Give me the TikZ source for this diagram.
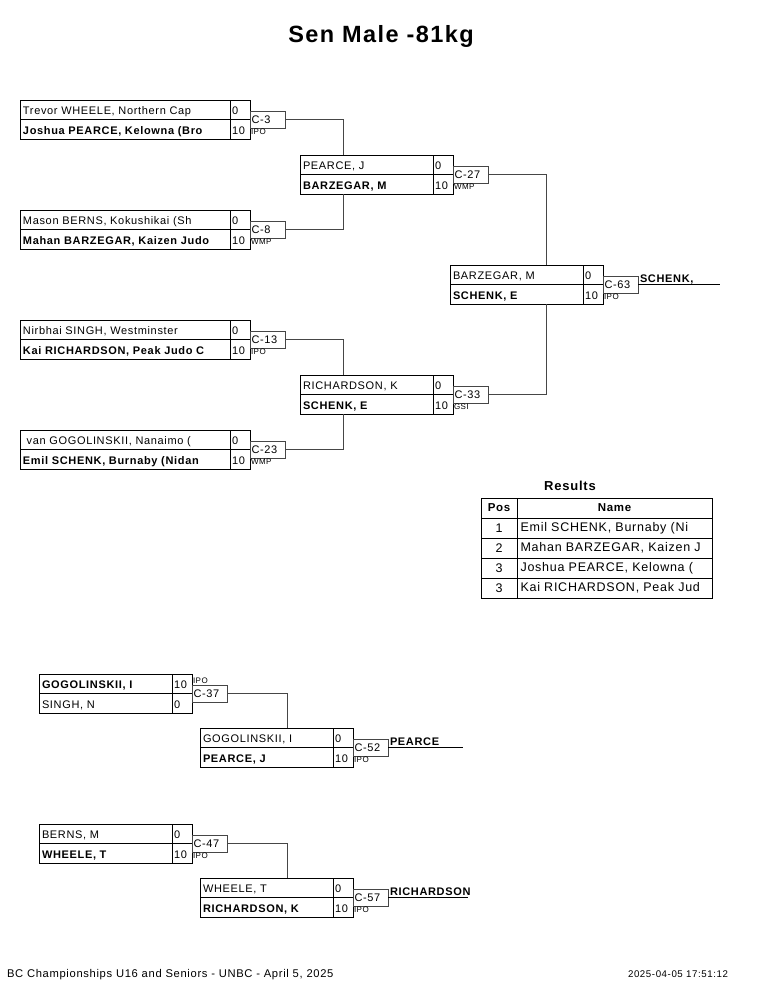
\documentclass[tikz,border=0pt]{standalone}
\usepackage{fontspec}
\newfontfamily\brfont[LetterSpace=6]{Liberation Sans}
\usetikzlibrary{positioning}

\begin{document}
\begin{tikzpicture}[
  x=1pt, y=-1pt, line width=1pt,
  every node/.style={font=\brfont\fontsize{11}{12}\selectfont, outer sep=0pt},
  player/.style={draw, minimum height=19.5pt, inner xsep=3pt, inner ysep=0pt, text height=10pt, text depth=0pt, text width=#1, align=left, anchor=north west},
  winner/.style={player=#1, font=\brfont\bfseries\fontsize{11}{12}\selectfont},
  score/.style={draw, minimum height=19.5pt, inner xsep=2pt, inner ysep=0pt, text height=10pt, text depth=0pt, text width=16pt, align=left},
  match/.style={draw=gray!55!black, fill=white, minimum height=17pt, inner xsep=1.5pt, inner ysep=0pt, text height=8pt, text depth=0pt, text width=32pt, align=left, anchor=west},
  how/.style={font=\brfont\fontsize{8}{9}\selectfont, inner sep=1pt},
  conn/.style={draw=gray!55!black},
  champ/.style={font=\brfont\bfseries\fontsize{11}{12}\selectfont, inner xsep=2pt, inner ysep=0pt, anchor=base west},
  poscell/.style={draw, minimum width=36pt, minimum height=20pt, inner sep=0pt, font=\brfont\fontsize{12.5}{15}\selectfont},
  namecell/.style={draw, minimum height=20pt, text width=188pt, inner xsep=3.5pt, inner ysep=0pt, align=left, font=\brfont\fontsize{12.5}{15}\selectfont},
  foot/.style={font=\brfont\fontsize{11.2}{13}\selectfont, inner sep=0pt}
  ]
\useasboundingbox (0,0) rectangle (765,990);

\node[font=\brfont\bfseries\fontsize{23.5}{28}\selectfont, anchor=base] (title) at (381,43) {Sen Male -81kg};

% first round
\node[player=204pt] (m3top) at (20,100) {Trevor WHEELE, Northern Cap};
\node[winner=204pt, below=0pt of m3top] (m3bot) {Joshua PEARCE, Kelowna (Bro};
\node[score, right=0pt of m3top] (m3topsc) {0};
\node[score, right=0pt of m3bot] (m3botsc) {10};
\node[match] (m3) at (m3topsc.south east) {C-3};
\node[how, anchor=north west] (m3how) at (m3.south west) {IPO};

\node[player=204pt] (m8top) at (20,210) {Mason BERNS, Kokushikai (Sh};
\node[winner=204pt, below=0pt of m8top] (m8bot) {Mahan BARZEGAR, Kaizen Judo};
\node[score, right=0pt of m8top] (m8topsc) {0};
\node[score, right=0pt of m8bot] (m8botsc) {10};
\node[match] (m8) at (m8topsc.south east) {C-8};
\node[how, anchor=north west] (m8how) at (m8.south west) {WMP};

\node[player=204pt] (m13top) at (20,320) {Nirbhai SINGH, Westminster};
\node[winner=204pt, below=0pt of m13top] (m13bot) {Kai RICHARDSON, Peak Judo C};
\node[score, right=0pt of m13top] (m13topsc) {0};
\node[score, right=0pt of m13bot] (m13botsc) {10};
\node[match] (m13) at (m13topsc.south east) {C-13};
\node[how, anchor=north west] (m13how) at (m13.south west) {IPO};

\node[player=204pt] (m23top) at (20,430) {\ van GOGOLINSKII, Nanaimo (};
\node[winner=204pt, below=0pt of m23top] (m23bot) {Emil SCHENK, Burnaby (Nidan};
\node[score, right=0pt of m23top] (m23topsc) {0};
\node[score, right=0pt of m23bot] (m23botsc) {10};
\node[match] (m23) at (m23topsc.south east) {C-23};
\node[how, anchor=north west] (m23how) at (m23.south west) {WMP};

% semi finals
\node[player=127pt] (m27top) at (300,155) {PEARCE, J};
\node[winner=127pt, below=0pt of m27top] (m27bot) {BARZEGAR, M};
\node[score, right=0pt of m27top] (m27topsc) {0};
\node[score, right=0pt of m27bot] (m27botsc) {10};
\node[match] (m27) at (m27topsc.south east) {C-27};
\node[how, anchor=north west] (m27how) at (m27.south west) {WMP};

\node[player=127pt] (m33top) at (300,375) {RICHARDSON, K};
\node[winner=127pt, below=0pt of m33top] (m33bot) {SCHENK, E};
\node[score, right=0pt of m33top] (m33topsc) {0};
\node[score, right=0pt of m33bot] (m33botsc) {10};
\node[match] (m33) at (m33topsc.south east) {C-33};
\node[how, anchor=north west] (m33how) at (m33.south west) {GSI};

% final
\node[player=127pt] (m63top) at (450,265) {BARZEGAR, M};
\node[winner=127pt, below=0pt of m63top] (m63bot) {SCHENK, E};
\node[score, right=0pt of m63top] (m63topsc) {0};
\node[score, right=0pt of m63bot] (m63botsc) {10};
\node[match] (m63) at (m63topsc.south east) {C-63};
\node[how, anchor=north west] (m63how) at (m63.south west) {IPO};
\node[champ] (win63) at ([yshift=2pt]m63.east) {SCHENK,};

\draw[conn] (m3.east) -| ([xshift=43pt]m27top.north west);
\draw[conn] (m8.east) -| ([xshift=43pt]m27bot.south west);
\draw[conn] (m13.east) -| ([xshift=43pt]m33top.north west);
\draw[conn] (m23.east) -| ([xshift=43pt]m33bot.south west);
\draw[conn] (m27.east) -| ([xshift=96pt]m63top.north west);
\draw[conn] (m33.east) -| ([xshift=96pt]m63bot.south west);
\draw (m63.east) -- ++(82,0) coordinate (end63);

% results
\node[font=\brfont\bfseries\fontsize{13}{15}\selectfont, anchor=base] (results) at (570,490) {Results};
\node[poscell, anchor=north west, font=\brfont\bfseries\fontsize{11.5}{13}\selectfont] (poshead) at (481,498) {Pos};
\node[namecell, align=center, right=0pt of poshead, font=\brfont\bfseries\fontsize{11.5}{13}\selectfont] (namehead) {Name};
\node[poscell, below=0pt of poshead] (pos1) {1};
\node[namecell, right=0pt of pos1] (name1) {Emil SCHENK, Burnaby (Ni};
\node[poscell, below=0pt of pos1] (pos2) {2};
\node[namecell, right=0pt of pos2] (name2) {Mahan BARZEGAR, Kaizen J};
\node[poscell, below=0pt of pos2] (pos3) {3};
\node[namecell, right=0pt of pos3] (name3) {Joshua PEARCE, Kelowna (};
\node[poscell, below=0pt of pos3] (pos4) {3};
\node[namecell, right=0pt of pos4] (name4) {Kai RICHARDSON, Peak Jud};

% repechage
\node[winner=127pt] (m37top) at (39,674) {GOGOLINSKII, I};
\node[player=127pt, below=0pt of m37top] (m37bot) {SINGH, N};
\node[score, right=0pt of m37top] (m37topsc) {10};
\node[score, right=0pt of m37bot] (m37botsc) {0};
\node[match] (m37) at (m37topsc.south east) {C-37};
\node[how, anchor=south west] (m37how) at (m37.north west) {IPO};

\node[player=127pt] (m52top) at (200,728) {GOGOLINSKII, I};
\node[winner=127pt, below=0pt of m52top] (m52bot) {PEARCE, J};
\node[score, right=0pt of m52top] (m52topsc) {0};
\node[score, right=0pt of m52bot] (m52botsc) {10};
\node[match] (m52) at (m52topsc.south east) {C-52};
\node[how, anchor=north west] (m52how) at (m52.south west) {IPO};
\node[champ] (win52) at ([yshift=2pt]m52.east) {PEARCE};

\node[player=127pt] (m47top) at (39,824) {BERNS, M};
\node[winner=127pt, below=0pt of m47top] (m47bot) {WHEELE, T};
\node[score, right=0pt of m47top] (m47topsc) {0};
\node[score, right=0pt of m47bot] (m47botsc) {10};
\node[match] (m47) at (m47topsc.south east) {C-47};
\node[how, anchor=north west] (m47how) at (m47.south west) {IPO};

\node[player=127pt] (m57top) at (200,878) {WHEELE, T};
\node[winner=127pt, below=0pt of m57top] (m57bot) {RICHARDSON, K};
\node[score, right=0pt of m57top] (m57topsc) {0};
\node[score, right=0pt of m57bot] (m57botsc) {10};
\node[match] (m57) at (m57topsc.south east) {C-57};
\node[how, anchor=north west] (m57how) at (m57.south west) {IPO};
\node[champ] (win57) at ([yshift=2pt]m57.east) {RICHARDSON};

\draw[conn] (m37.east) -| ([xshift=87pt]m52top.north west);
\draw[conn] (m47.east) -| ([xshift=87pt]m57top.north west);
\draw (m52.east) -- ++(75,0) coordinate (end52);
\draw (m57.east) -- ++(80,0) coordinate (end57);

% footer
\node[foot, anchor=base west] (event) at (7,977) {BC Championships U16 and Seniors - UNBC - April 5, 2025};
\node[foot, anchor=base east, font=\brfont\fontsize{9.7}{12}\selectfont] (stamp) at (728,977) {2025-04-05 17:51:12};
\end{tikzpicture}
\end{document}
